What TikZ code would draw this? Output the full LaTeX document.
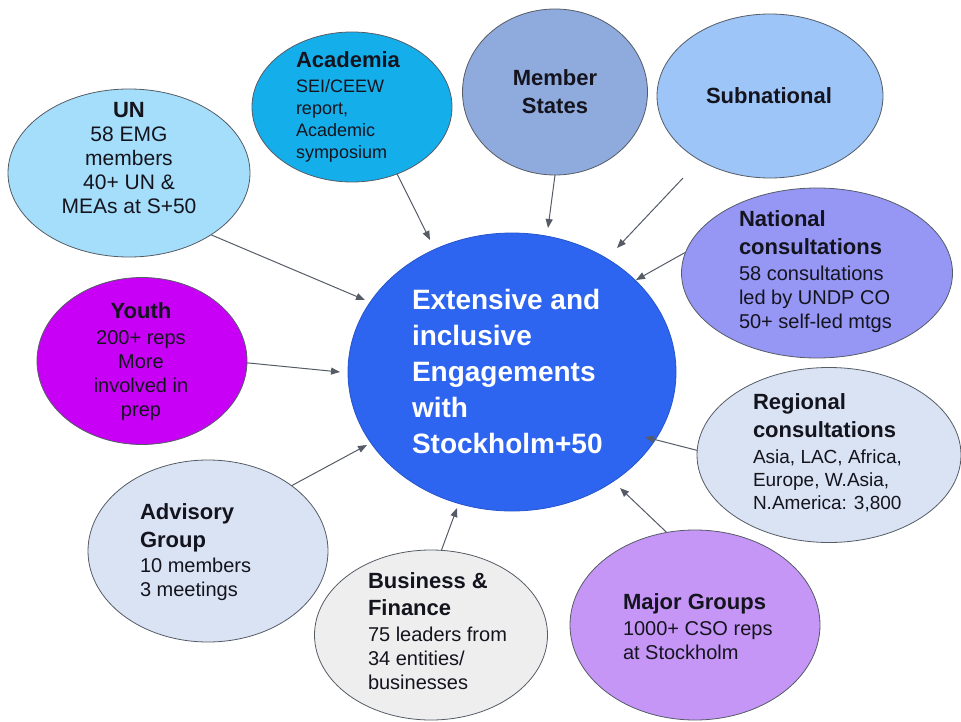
\documentclass[tikz,border=0pt]{standalone}
\usepackage{fontspec}
\setmainfont{Liberation Sans}
\usepackage{tikz}
\usetikzlibrary{shapes.geometric,arrows.meta,positioning}
\definecolor{hubblue}{RGB}{45,100,240}
\definecolor{unblue}{RGB}{165,222,250}
\definecolor{acadblue}{RGB}{20,175,235}
\definecolor{stateblue}{RGB}{143,170,220}
\definecolor{subblue}{RGB}{157,197,247}
\definecolor{natviolet}{RGB}{150,150,245}
\definecolor{youthpurple}{RGB}{200,0,245}
\definecolor{paleblue}{RGB}{218,227,243}
\definecolor{palegray}{RGB}{238,238,238}
\definecolor{groupviolet}{RGB}{198,150,247}
\definecolor{rimgray}{RGB}{85,92,102}
\definecolor{inkblack}{RGB}{20,20,30}
\newcommand{\ttl}[1]{{\fontsize{22}{28}\selectfont\bfseries #1}}

\begin{document}
\begin{tikzpicture}[x=1pt,y=-1pt,outer sep=0pt,inner sep=0pt]
        \tikzset{bubble/.style={ellipse,draw=rimgray,line width=0.8pt}}
        \tikzset{blurb/.style={text=inkblack,align=left,anchor=west,font=\fontsize{20}{24}\selectfont}}
        \tikzset{link/.style={draw=rimgray,line width=1pt,-{Triangle[length=9pt,width=7pt]}}}

        \useasboundingbox (0,0) rectangle (961,722);

        \node [bubble,fill=hubblue,draw=hubblue!85!black,minimum width=328pt,minimum height=278pt] (hub) at (512,372) {};
        \node [bubble,fill=unblue,minimum width=242pt,minimum height=168pt] (un) at (129,173) {};
        \node [bubble,fill=acadblue,minimum width=200pt,minimum height=150pt] (acad) at (352,107) {};
        \node [bubble,fill=stateblue,minimum width=185pt,minimum height=166pt] (states) at (555,92) {};
        \node [bubble,fill=subblue,minimum width=226pt,minimum height=164pt] (subnat) at (770,96) {};
        \node [bubble,fill=natviolet,minimum width=271pt,minimum height=170pt] (natcons) at (817,273) {};
        \node [bubble,fill=youthpurple,minimum width=210pt,minimum height=167pt] (youth) at (142,361) {};
        \node [bubble,fill=paleblue,minimum width=264pt,minimum height=175pt] (regcons) at (829,455) {};
        \node [bubble,fill=paleblue,minimum width=240pt,minimum height=182pt] (advisory) at (208,551) {};
        \node [bubble,fill=palegray,minimum width=233pt,minimum height=170pt] (business) at (431,635) {};
        \node [bubble,fill=groupviolet,minimum width=250pt,minimum height=190pt] (groups) at (695,625) {};

        \node [blurb,text=white,font=\fontsize{28}{36}\selectfont\bfseries] (hub-text) at (412,371)
            {Extensive and\\inclusive\\Engagements\\with\\Stockholm+50};
        \node [blurb,align=center,anchor=center,font=\fontsize{21}{24}\selectfont] (un-text) at (129,158)
            {\ttl{UN}\\58 EMG\\members\\40+ UN \&\\MEAs at S+50};
        \node [blurb,font=\fontsize{18}{22}\selectfont] (acad-text) at (296,107)
            {\ttl{Academia}\\[3pt]SEI/CEEW\\report,\\Academic\\symposium};
        \node [blurb,align=center,anchor=center,font=\fontsize{22}{28}\selectfont\bfseries] (states-text) at (555,92)
            {Member\\States};
        \node [blurb,anchor=center,font=\fontsize{22}{28}\selectfont\bfseries] (subnat-text) at (769,96) {Subnational};
        \node [blurb] (natcons-text) at (739,272)
            {\ttl{National}\\[4pt]\ttl{consultations}\\[2pt]58 consultations\\led by UNDP CO\\50+ self-led mtgs};
        \node [blurb,align=center,anchor=center] (youth-text) at (141,362)
            {\ttl{Youth}\\[2pt]200+ reps\\More\\involved in\\prep};
        \node [blurb,font=\fontsize{19}{23}\selectfont] (regcons-text) at (753,453)
            {\ttl{Regional}\\[5pt]\ttl{consultations}\\[3pt]Asia, LAC, Africa,\\Europe, W.Asia,\\N.America: 3,800};
        \node [blurb] (advisory-text) at (140,552)
            {\ttl{Advisory}\\[4pt]\ttl{Group}\\[1pt]10 members\\3 meetings};
        \node [blurb] (business-text) at (368,631)
            {\ttl{Business \&}\\[3pt]\ttl{Finance}\\[2pt]75 leaders from\\34 entities/\\businesses};
        \node [blurb] (groups-text) at (623,627)
            {\ttl{Major Groups}\\[2pt]1000+ CSO reps\\at Stockholm};

        % arrow tips stop just short of the hub
        \coordinate (tip-un) at (365,300);
        \coordinate (tip-acad) at (430,240);
        \coordinate (tip-states) at (548,228);
        \coordinate (tail-subnat) at (683,178);
        \coordinate (tip-subnat) at (617,248);
        \coordinate (tip-natcons) at (636,280);
        \coordinate (tip-youth) at (340,372);
        \coordinate (tip-regcons) at (645,437);
        \coordinate (tip-advisory) at (367,445);
        \coordinate (tip-business) at (457,508);
        \coordinate (tip-groups) at (620,488);

        \draw [link] (un.-37) -- (tip-un);
        \draw [link] (acad.-56) -- (tip-acad);
        \draw [link] (states.-90) -- (tip-states);
        \draw [link] (tail-subnat) -- (tip-subnat);
        \draw [link] (natcons.171) -- (tip-natcons);
        \draw [link] (youth.-1) -- (tip-youth);
        \draw [link] (regcons.178) -- (tip-regcons);
        \draw [link] (advisory.38) -- (tip-advisory);
        \draw [link] (business.83) -- (tip-business);
        \draw [link] (groups.107) -- (tip-groups);
    \end{tikzpicture}
\end{document}
